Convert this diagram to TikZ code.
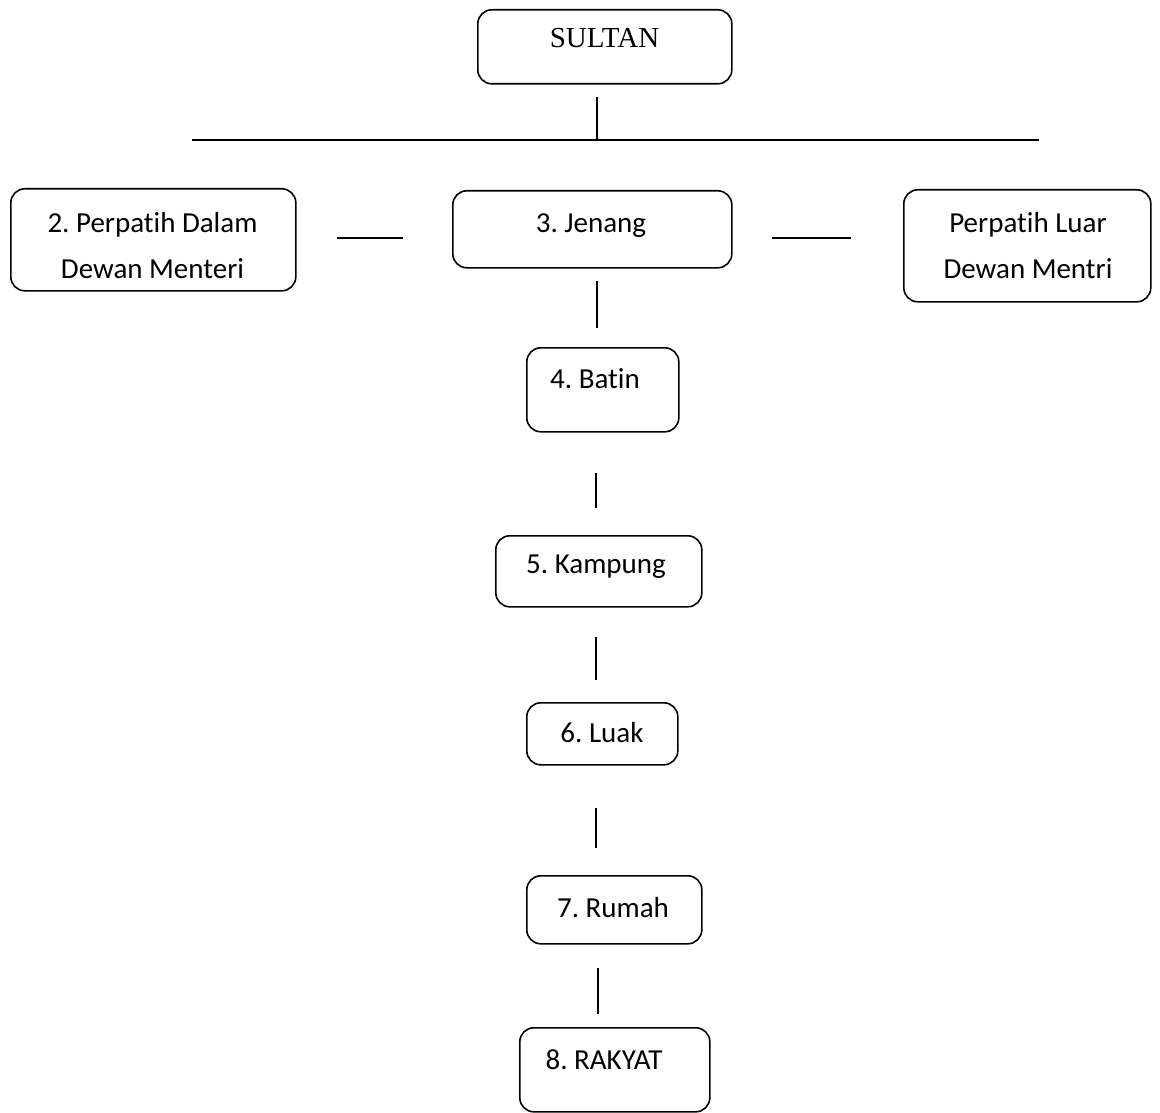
\documentclass[tikz,border=0pt]{standalone}
\usepackage{fontspec}
\setmainfont[Ligatures={NoCommon,NoContextual},RawFeature={-liga;-clig;-dlig;-calt}]{Carlito}
\newfontfamily\sultanfont{Liberation Serif}
\frenchspacing
\begin{document}
\begin{tikzpicture}[x=1pt,y=-1pt,
  box/.style={draw, rounded corners=14pt, line width=1.6pt, inner sep=0pt, anchor=north west},
  txt/.style={anchor=base, inner sep=0pt, font=\fontsize{29}{35}\selectfont},
  conn/.style={line width=1.6pt}]
\useasboundingbox (0,0) rectangle (1160,1113);

% boxes
\node[box, minimum width=254pt, minimum height=74pt] (sultan) at (477,9) {};
\node[box, minimum width=285pt, minimum height=102pt] (dalam) at (10,188) {};
\node[box, minimum width=279pt, minimum height=77pt] (jenang) at (452,190) {};
\node[box, minimum width=247pt, minimum height=112pt] (luar) at (903,189) {};
\node[box, minimum width=152pt, minimum height=84pt] (batin) at (526,347) {};
\node[box, minimum width=206pt, minimum height=71pt] (kampung) at (495,535) {};
\node[box, minimum width=151pt, minimum height=62pt] (luak) at (526,702) {};
\node[box, minimum width=175pt, minimum height=68pt] (rumah) at (526,875) {};
\node[box, minimum width=190pt, minimum height=84pt] (rakyat) at (519,1027) {};

% texts
\node[txt, font=\sultanfont\fontsize{29}{35}\selectfont] (sultant) at (604.5,48) {SULTAN};
\node[txt] (dalam1) at (152.5,232) {2. Perpatih Dalam};
\node[txt] (dalam2) at (152.5,278) {Dewan Menteri};
\node[txt] (jenangt) at (591,233) {3. Jenang};
\node[txt] (luar1) at (1028,232) {Perpatih Luar};
\node[txt] (luar2) at (1028,278) {Dewan Mentri};
\node[txt] (batint) at (595,388) {4. Batin};
\node[txt] (kampungt) at (596,573) {5. Kampung};
\node[txt] (luakt) at (602,742) {6. Luak};
\node[txt] (rumaht) at (613,917) {7. Rumah};
\node[txt] (rakyatt) at (604,1069) {8. RAKYAT};

% connector end points
\coordinate (s1) at (597,97);   \coordinate (s2) at (597,140);
\coordinate (h1) at (192,140);  \coordinate (h2) at (1039,140);
\coordinate (l1) at (337,238);  \coordinate (l2) at (403,238);
\coordinate (r1) at (772,238);  \coordinate (r2) at (851,238);
\coordinate (v1a) at (597,281); \coordinate (v1b) at (597,328);
\coordinate (v2a) at (596,473); \coordinate (v2b) at (596,508);
\coordinate (v3a) at (596,637); \coordinate (v3b) at (596,680);
\coordinate (v4a) at (596,808); \coordinate (v4b) at (596,848);
\coordinate (v5a) at (598,968); \coordinate (v5b) at (598,1014);

\draw[conn] (s1) -- (s2);
\draw[conn] (h1) -- (h2);
\draw[conn] (l1) -- (l2);
\draw[conn] (r1) -- (r2);
\draw[conn] (v1a) -- (v1b);
\draw[conn] (v2a) -- (v2b);
\draw[conn] (v3a) -- (v3b);
\draw[conn] (v4a) -- (v4b);
\draw[conn] (v5a) -- (v5b);
\end{tikzpicture}
\end{document}
